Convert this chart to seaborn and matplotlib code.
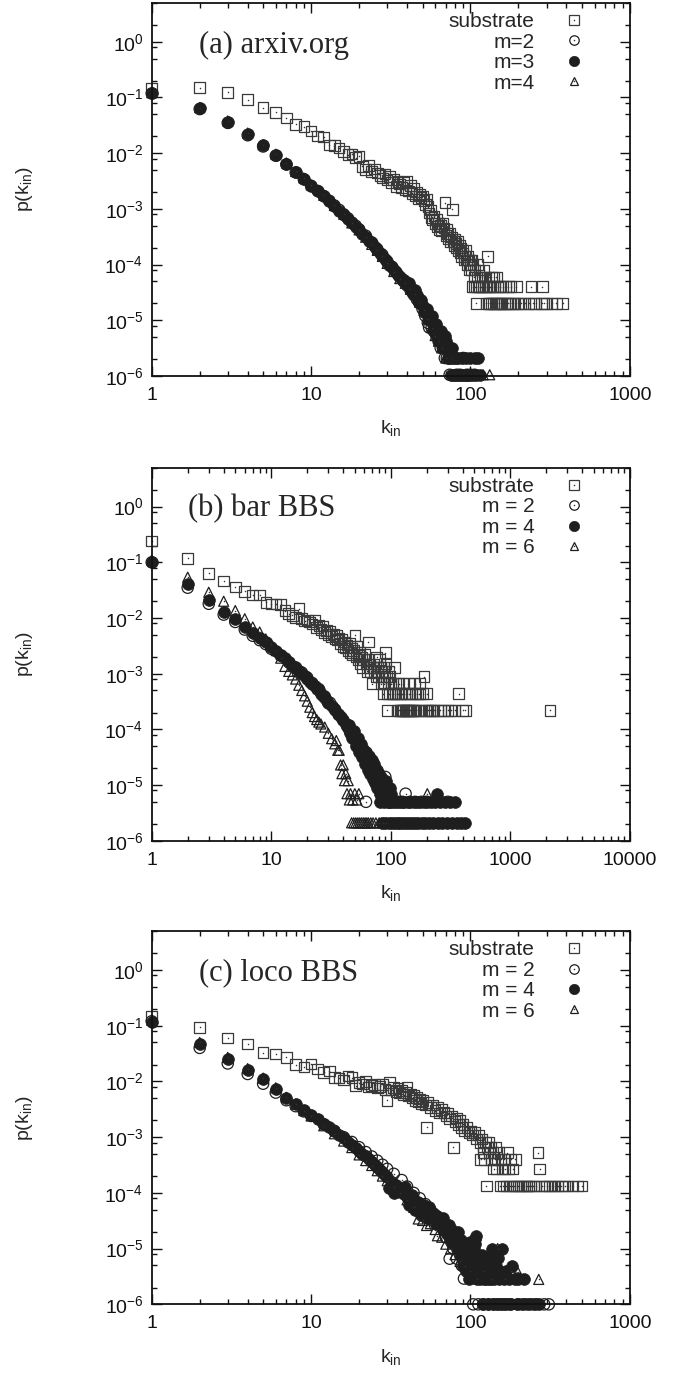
import matplotlib
matplotlib.use("Agg")
import matplotlib.pyplot as plt
import seaborn as sns
from matplotlib.lines import Line2D
from matplotlib.legend_handler import HandlerTuple
from matplotlib.ticker import LogLocator, LogFormatterSciNotation, NullFormatter

# ---------------- data: (k_in, p(k_in)) ----------------
# (a) arxiv.org
A_SUB = [(1, .147), (2, .151), (3, .123), (4, .091), (5, .066), (6, .054), (7, .043), (8, .033),
         (9, .030), (10, .025), (11, .0205), (12, .0195), (13, .014), (14, .0136), (15, .0124),
         (16, .0108), (17, .0094), (18, .0096), (19, .0083), (20, .0088), (21, .0058), (22, .0051),
         (23, .0060), (24, .0047), (25, .0052), (26, .0044), (27, .0040), (28, .0036), (29, .0042),
         (30, .0033), (31, .0038), (32, .0030), (33, .0034), (34, .0025), (35, .0031), (36, .0028),
         (37, .0024), (38, .0030), (39, .0022), (40, .0031), (41, .0021), (42, .0026), (43, .0019),
         (44, .0023), (45, .0017), (46, .0020), (47, .0015), (48, .0018), (49, .0016), (50, .0017),
         (51, .0014), (52, .0012), (53, .0015), (54, .0011), (55, 8.5e-4), (56, 9.5e-4), (57, 7.0e-4),
         (58, 6.4e-4), (59, 7.5e-4), (60, 5.5e-4), (61, 6.4e-4), (62, 4.8e-4), (63, 5.5e-4),
         (64, 4.3e-4), (65, 5.0e-4), (66, 4.0e-4), (67, 5.5e-4), (68, 4.5e-4), (69, 1.3e-3),
         (70, 3.3e-4), (71, 4.3e-4), (72, 3.6e-4), (73, 2.9e-4), (74, 3.6e-4), (75, 2.6e-4),
         (76, 3.1e-4), (77, 9.8e-4), (78, 2.6e-4), (79, 2.2e-4), (80, 2.9e-4), (81, 2.4e-4),
         (82, 2.0e-4), (83, 2.6e-4), (84, 1.8e-4), (85, 2.2e-4), (86, 1.6e-4), (87, 2.0e-4),
         (88, 1.4e-4), (89, 1.8e-4), (90, 1.6e-4), (91, 1.2e-4), (92, 1.4e-4), (93, 1.8e-4),
         (94, 1.2e-4), (95, 1.0e-4), (96, 1.4e-4), (97, 1.2e-4), (98, 8.0e-5), (99, 1.0e-4),
         (100, 1.2e-4), (101, 8.0e-5), (102, 1.2e-4), (103, 4.0e-5), (104, 1.0e-4), (105, 6.0e-5),
         (106, 4.0e-5), (107, 8.0e-5), (108, 2.0e-5), (109, 4.0e-5), (110, 6.0e-5), (111, 1.0e-4),
         (112, 4.0e-5), (113, 8.0e-5), (114, 4.0e-5), (115, 6.0e-5), (117, 4.0e-5), (118, 6.0e-5),
         (120, 4.0e-5), (121, 8.0e-5), (123, 6.0e-5), (124, 4.0e-5), (126, 2.0e-5), (127, 4.0e-5),
         (128, 1.4e-4), (129, 2.0e-5), (130, 4.0e-5), (131, 6.0e-5), (132, 2.0e-5), (133, 4.0e-5),
         (135, 6.0e-5), (136, 2.0e-5), (137, 4.0e-5), (139, 2.0e-5), (140, 6.0e-5), (142, 4.0e-5),
         (143, 2.0e-5), (145, 6.0e-5), (146, 2.0e-5), (148, 4.0e-5), (151, 2.0e-5), (153, 4.0e-5),
         (155, 2.0e-5), (158, 2.0e-5), (160, 4.0e-5), (163, 2.0e-5), (166, 4.0e-5), (168, 2.0e-5),
         (172, 2.0e-5), (173, 4.0e-5), (177, 2.0e-5), (180, 4.0e-5), (183, 2.0e-5), (190, 2.0e-5),
         (194, 4.0e-5), (199, 2.0e-5), (208, 2.0e-5), (219, 2.0e-5), (233, 2.0e-5), (240, 4.0e-5),
         (248, 2.0e-5), (256, 2.0e-5), (279, 2.0e-5), (282, 4.0e-5), (290, 2.0e-5), (300, 2.0e-5),
         (325, 2.0e-5), (345, 2.0e-5), (379, 2.0e-5)]
A_M2 = [(1, .118), (2, .062), (3, .035), (4, .021), (5, .0132), (6, .009), (7, .0063), (8, .0045),
        (9, .0034), (10, .0026), (11, .0021), (12, .0017), (13, .0014), (14, .00115), (15, .00096),
        (16, .0008), (17, .00068), (18, .00057), (19, .0005), (20, .00043), (22, 3.3e-4),
        (24, 2.5e-4), (26, 1.9e-4), (28, 1.5e-4), (30, 1.15e-4), (32, 9.2e-5), (34, 7.4e-5),
        (36, 6.0e-5), (38, 5.0e-5), (40, 4.2e-5), (42, 3.5e-5), (44, 2.9e-5), (46, 2.4e-5),
        (48, 2.0e-5), (50, 1.6e-5), (52, 1.2e-5), (54, 9.0e-6), (55, 7.4e-6), (57, 7.4e-6),
        (59, 6.3e-6), (61, 5.3e-6), (63, 4.2e-6), (65, 3.2e-6), (67, 3.2e-6), (69, 2.1e-6),
        (71, 2.1e-6), (74, 1.05e-6), (78, 2.1e-6), (82, 1.05e-6), (86, 1.05e-6), (90, 2.1e-6),
        (95, 1.05e-6), (100, 1.05e-6), (106, 1.05e-6)]
A_M3 = [(1, .12), (2, .065), (3, .037), (4, .022), (5, .0138), (6, .0093), (7, .0065), (8, .0046),
        (9, .0035), (10, .0026), (11, .0021), (12, .0017), (13, .00138), (14, .00112), (15, .00093),
        (16, .00078), (17, .00066), (18, .00055), (19, .00048), (20, .00041), (21, 3.5e-4),
        (22, 3.1e-4), (23, 2.7e-4), (24, 2.4e-4), (25, 2.1e-4), (26, 1.85e-4), (27, 1.6e-4),
        (28, 1.45e-4), (29, 1.25e-4), (30, 1.1e-4), (31, 1.0e-4), (32, 9.0e-5), (33, 8.0e-5),
        (34, 7.4e-5), (35, 6.6e-5), (36, 6.0e-5), (37, 5.6e-5), (38, 5.2e-5), (39, 4.8e-5),
        (40, 4.5e-5), (41, 4.6e-5), (42, 3.9e-5), (43, 3.2e-5), (44, 3.4e-5), (45, 3.5e-5),
        (46, 2.8e-5), (47, 2.2e-5), (48, 2.2e-5), (49, 2.3e-5), (50, 1.8e-5), (51, 1.4e-5),
        (52, 1.5e-5), (53, 1.6e-5), (54, 1.2e-5), (55, 1.0e-5), (56, 1.0e-5), (57, 1.2e-5),
        (58, 8.4e-6), (59, 6.3e-6), (60, 7.4e-6), (61, 8.4e-6), (62, 5.3e-6), (63, 4.2e-6),
        (64, 4.2e-6), (65, 6.3e-6), (66, 5.3e-6), (67, 3.2e-6), (68, 3.2e-6), (69, 5.3e-6),
        (70, 4.2e-6), (71, 3.2e-6), (72, 2.1e-6), (73, 2.1e-6), (74, 3.2e-6), (75, 2.1e-6),
        (76, 1.05e-6), (77, 3.2e-6), (78, 1.05e-6), (79, 2.1e-6), (80, 1.05e-6), (81, 2.1e-6),
        (82, 1.05e-6), (84, 2.1e-6), (85, 1.05e-6), (87, 1.05e-6), (88, 2.1e-6), (90, 1.05e-6),
        (92, 1.05e-6), (94, 2.1e-6), (95, 1.05e-6), (97, 1.05e-6), (99, 2.1e-6), (100, 1.05e-6),
        (103, 1.05e-6), (106, 2.1e-6), (108, 1.05e-6), (111, 2.1e-6), (114, 1.05e-6)]
A_M4 = [(1, .122), (2, .066), (3, .038), (4, .023), (5, .0142), (6, .0096), (7, .0067), (8, .0047),
        (9, .0036), (10, .0027), (12, .00175), (14, .00115), (16, .0008), (18, .00056), (20, .00042),
        (22, 3.1e-4), (24, 2.3e-4), (26, 1.8e-4), (28, 1.4e-4), (30, 1.05e-4), (33, 7.5e-5),
        (36, 5.6e-5), (39, 4.6e-5), (42, 3.6e-5), (45, 2.9e-5), (48, 2.1e-5), (51, 1.5e-5),
        (54, 1.05e-5), (57, 7.4e-6), (60, 5.3e-6), (63, 4.2e-6), (66, 3.2e-6), (70, 2.1e-6),
        (75, 2.1e-6), (80, 1.05e-6), (90, 1.05e-6), (100, 1.05e-6), (110, 1.05e-6), (120, 1.05e-6),
        (132, 1.05e-6)]

# (b) bar BBS
B_SUB = [(1, .24), (2, .118), (3, .063), (4, .046), (5, .036), (6, .030), (7, .026), (8, .026),
         (9, .019), (10, .018), (11, .018), (12, .0175), (13, .0136), (14, .012), (15, .0112),
         (16, .0103), (17, .0148), (18, .0098), (19, .0088), (20, .0092), (21, .0085), (22, .0078),
         (23, .0092), (24, .0068), (25, .0074), (26, .0062), (27, .0072), (28, .0055), (29, .0060),
         (30, .0050), (31, .0058), (32, .0046), (33, .0052), (34, .0042), (35, .0049), (36, .0040),
         (37, .0044), (38, .0035), (39, .0042), (40, .0031), (41, .0037), (42, .0029), (43, .0033),
         (44, .0026), (45, .0035), (46, .0024), (47, .0029), (48, .0022), (49, .0026), (50, .0049),
         (51, .0020), (52, .0031), (53, .0018), (54, .0021), (55, .0024), (56, .0015), (57, .0020),
         (58, .0013), (59, .0018), (60, .0022), (62, .0015), (63, .0011), (64, .0018), (65, .0037),
         (66, .0013), (67, .0015), (68, .0011), (70, 6.6e-4), (71, .0013), (72, .0015), (73, .0011),
         (75, 8.8e-4), (76, .0020), (77, .0013), (78, .0011), (79, 8.8e-4), (80, .0018), (82, .0013),
         (83, 6.6e-4), (84, .0011), (85, 8.8e-4), (86, 4.4e-4), (87, .0013), (88, 6.6e-4),
         (89, .0011), (90, .0024), (91, .0015), (92, 8.8e-4), (93, 2.2e-4), (94, 4.4e-4),
         (95, 6.6e-4), (96, .0011), (97, 4.4e-4), (98, 8.8e-4), (100, 6.6e-4), (102, 4.4e-4),
         (104, 6.6e-4), (105, 4.4e-4), (107, 1.3e-3), (108, 4.4e-4), (110, 6.6e-4), (113, 2.2e-4),
         (114, 4.4e-4), (116, 2.2e-4), (117, 6.6e-4), (119, 2.2e-4), (120, 4.4e-4), (122, 2.2e-4),
         (124, 4.4e-4), (125, 2.2e-4), (127, 6.6e-4), (128, 2.2e-4), (130, 4.4e-4), (132, 2.2e-4),
         (134, 2.2e-4), (135, 4.4e-4), (137, 2.2e-4), (140, 6.6e-4), (141, 2.2e-4), (143, 4.4e-4),
         (145, 2.2e-4), (148, 2.2e-4), (150, 4.4e-4), (152, 2.2e-4), (155, 2.2e-4), (158, 6.6e-4),
         (160, 4.4e-4), (163, 2.2e-4), (167, 4.4e-4), (170, 2.2e-4), (173, 4.4e-4), (176, 6.6e-4),
         (180, 2.2e-4), (185, 4.4e-4), (190, 8.8e-4), (195, 2.2e-4), (200, 4.4e-4), (205, 2.2e-4),
         (212, 2.2e-4), (220, 2.2e-4), (230, 2.2e-4), (245, 2.2e-4), (260, 2.2e-4), (275, 2.2e-4),
         (300, 2.2e-4), (320, 2.2e-4), (345, 2.2e-4), (370, 4.4e-4), (400, 2.2e-4), (420, 2.2e-4),
         (2150, 2.2e-4)]
B_M2 = [(1, .10), (2, .035), (3, .018), (4, .0115), (5, .0085), (6, .0062), (7, .0048), (8, .0040),
        (9, .0034), (10, .0028), (12, .0021), (14, .0016), (16, .0013), (18, .00105), (20, .00085),
        (22, 6.8e-4), (25, 5.3e-4), (28, 3.9e-4), (31, 3.0e-4), (34, 2.3e-4), (37, 1.8e-4),
        (40, 1.45e-4), (43, 1.15e-4), (46, 9.0e-5), (50, 6.8e-5), (54, 4.8e-5), (58, 3.6e-5),
        (62, 5.0e-6), (63, 2.7e-5), (68, 2.1e-5), (73, 1.6e-5), (78, 1.2e-5), (84, 1.0e-5),
        (90, 1.4e-5), (96, 7.0e-6), (104, 5.0e-6), (115, 5.0e-6), (125, 5.0e-6), (133, 7.0e-6),
        (145, 5.0e-6), (160, 5.0e-6), (180, 5.0e-6), (200, 5.0e-6), (230, 5.0e-6), (260, 5.0e-6),
        (300, 5.0e-6)]
B_M4 = [(1, .10), (2, .040), (3, .021), (4, .013), (5, .0097), (6, .0070), (7, .0053), (8, .0044),
        (9, .0037), (10, .0030), (11, .0026), (12, .0022), (13, .0019), (14, .0016), (15, .0014),
        (16, .00125), (17, .0011), (18, .0010), (19, 9.0e-4), (20, 8.0e-4), (21, 7.2e-4),
        (22, 6.5e-4), (23, 5.9e-4), (24, 5.4e-4), (25, 5.0e-4), (26, 4.4e-4), (27, 4.0e-4),
        (28, 3.6e-4), (29, 3.3e-4), (30, 3.0e-4), (32, 2.6e-4), (34, 2.2e-4), (36, 1.9e-4),
        (38, 1.65e-4), (40, 1.45e-4), (42, 1.25e-4), (44, 1.05e-4), (46, 8.5e-5), (48, 7.5e-5),
        (50, 6.5e-5), (52, 5.6e-5), (55, 4.5e-5), (58, 3.8e-5), (60, 3.3e-5), (63, 2.9e-5),
        (65, 2.6e-5), (68, 2.2e-5), (70, 2.0e-5), (73, 1.7e-5), (75, 1.5e-5), (78, 1.3e-5),
        (80, 1.2e-5), (82, 5.0e-6), (84, 1.0e-5), (85, 2.1e-6), (86, 7.0e-6), (88, 5.0e-6),
        (90, 2.1e-6), (92, 9.0e-6), (94, 5.0e-6), (96, 2.1e-6), (98, 5.0e-6), (100, 7.0e-6),
        (102, 2.1e-6), (105, 5.0e-6), (108, 2.1e-6), (111, 5.0e-6), (114, 2.1e-6), (117, 5.0e-6),
        (120, 2.1e-6), (123, 5.0e-6), (126, 2.1e-6), (130, 5.0e-6), (134, 2.1e-6), (138, 5.0e-6),
        (142, 2.1e-6), (146, 5.0e-6), (150, 2.1e-6), (155, 5.0e-6), (160, 2.1e-6), (165, 5.0e-6),
        (170, 2.1e-6), (176, 5.0e-6), (182, 2.1e-6), (188, 5.0e-6), (195, 2.1e-6), (202, 5.0e-6),
        (210, 2.1e-6), (218, 5.0e-6), (226, 2.1e-6), (235, 5.0e-6), (244, 7.0e-6), (250, 2.1e-6),
        (260, 5.0e-6), (270, 2.1e-6), (282, 5.0e-6), (295, 2.1e-6), (310, 5.0e-6), (325, 2.1e-6),
        (346, 5.0e-6), (360, 2.1e-6), (385, 2.1e-6), (420, 2.1e-6),
        (45, 1.2e-4), (47, 7.0e-5), (49, 9.5e-5), (51, 5.0e-5), (53, 7.0e-5), (54, 4.0e-5),
        (56, 5.5e-5), (57, 3.2e-5), (59, 4.5e-5), (61, 2.4e-5), (62, 4.0e-5), (64, 1.9e-5),
        (66, 3.3e-5), (67, 1.6e-5), (69, 2.8e-5), (71, 1.3e-5), (72, 2.4e-5), (74, 1.1e-5),
        (76, 1.9e-5), (77, 9.0e-6), (79, 1.6e-5), (81, 7.0e-6), (83, 1.4e-5), (87, 1.1e-5),
        (89, 7.0e-6), (91, 1.2e-5), (93, 7.0e-6), (95, 9.0e-6), (97, 5.0e-6), (99, 9.0e-6)]
B_M6 = [(1, .11), (2, .054), (3, .029), (4, .020), (5, .0136), (6, .0097), (7, .0069), (8, .0056),
        (9, .0042), (10, .0034), (11, .0026), (12, .0019), (13, .00135), (14, .0011), (15, .00095),
        (16, .0008), (17, 6.2e-4), (18, 5.0e-4), (19, 4.0e-4), (20, 3.2e-4), (21, 2.5e-4),
        (22, 2.0e-4), (23, 1.7e-4), (24, 1.5e-4), (25, 1.35e-4), (26, 1.25e-4), (28, 1.1e-4),
        (30, 8.5e-5), (32, 6.8e-5), (34, 5.5e-5), (35, 6.3e-5), (36, 4.2e-5), (37, 4.2e-5),
        (38, 2.3e-5), (39, 1.6e-5), (40, 2.3e-5), (41, 1.2e-5), (42, 1.6e-5), (43, 7.0e-6),
        (44, 1.2e-5), (45, 5.4e-6), (46, 7.0e-6), (47, 2.1e-6), (48, 5.4e-6), (49, 2.1e-6),
        (50, 7.0e-6), (51, 2.1e-6), (52, 5.4e-6), (53, 2.1e-6), (54, 7.0e-6), (55, 2.1e-6),
        (57, 2.1e-6), (59, 2.1e-6), (61, 2.1e-6), (63, 2.1e-6), (65, 2.1e-6), (68, 2.1e-6),
        (71, 2.1e-6), (75, 2.1e-6), (80, 2.1e-6), (86, 2.1e-6), (92, 2.1e-6), (202, 7.0e-6)]

# (c) loco BBS
C_SUB = [(1, .15), (2, .093), (3, .060), (4, .047), (5, .033), (6, .031), (7, .027), (8, .020),
         (9, .018), (10, .0205), (11, .0167), (12, .0145), (13, .0155), (14, .0118), (15, .0115),
         (16, .0107), (17, .0125), (18, .0117), (19, .0084), (20, .0095), (21, .0090), (22, .010),
         (23, .0079), (24, .0085), (25, .0088), (26, .0076), (27, .0082), (28, .0089), (29, .0072),
         (30, .0046), (31, .0096), (32, .0070), (33, .0078), (34, .0066), (35, .0074), (36, .0062),
         (37, .0068), (38, .0058), (39, .0064), (40, .0080), (41, .0055), (42, .0060), (43, .0050),
         (44, .0056), (45, .0046), (46, .0052), (47, .0043), (48, .0048), (49, .0040), (50, .0045),
         (52, .0038), (53, .0015), (54, .0042), (56, .0034), (58, .0038), (60, .0030), (62, .0034),
         (64, .0027), (66, .0031), (68, .0028), (70, .0024), (72, .0027), (74, .0021), (76, .0024),
         (78, 6.6e-4), (80, .0019), (82, .0022), (84, .0017), (86, .0020), (88, .0015), (90, .0017),
         (92, .0013), (95, .0015), (98, .0012), (100, .0013), (103, .0011), (106, .0012),
         (109, 9.3e-4), (112, .0011), (115, 8.0e-4), (116, 4.0e-4), (118, 9.3e-4), (120, 5.3e-4),
         (121, 6.7e-4), (122, 4.0e-4), (124, 8.0e-4), (126, 1.33e-4), (128, 6.7e-4), (130, 8.0e-4),
         (132, 5.3e-4), (134, 6.7e-4), (136, 4.0e-4), (138, 5.3e-4), (140, 2.7e-4), (142, 4.0e-4),
         (144, 6.7e-4), (146, 2.7e-4), (148, 4.0e-4), (150, 5.3e-4), (153, 1.33e-4), (155, 4.0e-4),
         (158, 2.7e-4), (160, 1.33e-4), (162, 4.0e-4), (165, 2.7e-4), (167, 1.33e-4), (170, 5.3e-4),
         (173, 2.7e-4), (176, 1.33e-4), (179, 4.0e-4), (182, 1.33e-4), (185, 2.7e-4), (188, 1.33e-4),
         (191, 4.0e-4), (195, 1.33e-4), (200, 1.33e-4), (206, 1.33e-4), (212, 1.33e-4),
         (218, 1.33e-4), (225, 1.33e-4), (232, 1.33e-4), (240, 1.33e-4), (248, 1.33e-4),
         (256, 1.33e-4), (265, 5.3e-4), (272, 2.7e-4), (280, 1.33e-4), (290, 1.33e-4),
         (300, 1.33e-4), (312, 1.33e-4), (325, 1.33e-4), (340, 1.33e-4), (355, 1.33e-4),
         (372, 1.33e-4), (390, 1.33e-4), (410, 1.33e-4), (440, 1.33e-4), (470, 1.33e-4),
         (500, 1.33e-4)]
C_M2 = [(1, .12), (2, .040), (3, .021), (4, .0136), (5, .0091), (6, .0063), (7, .0046), (8, .0036),
        (9, .0029), (10, .0024), (12, 1.7e-3), (14, 1.3e-3), (16, 1.0e-3), (18, 8.2e-4),
        (20, 6.6e-4), (22, 5.4e-4), (24, 4.5e-4), (26, 3.8e-4), (28, 3.2e-4), (30, 2.7e-4),
        (33, 2.2e-4), (37, 1.7e-4), (40, 1.3e-4), (44, 1.0e-4), (48, 8.0e-5), (52, 6.3e-5),
        (56, 5.0e-5), (60, 4.0e-5), (65, 2.8e-5), (70, 1.6e-5), (74, 6.6e-6), (78, 1.0e-5),
        (82, 6.6e-6), (85, 1.0e-5), (88, 5.0e-6), (91, 2.9e-6), (95, 4.0e-6), (100, 2.9e-6),
        (104, 1.0e-6), (108, 2.9e-6), (112, 1.0e-6), (116, 3.9e-6), (120, 1.0e-6), (125, 2.9e-6),
        (130, 1.0e-6), (140, 1.0e-6), (150, 1.0e-6), (160, 1.0e-6), (170, 1.0e-6), (180, 1.0e-6),
        (198, 2.9e-6), (200, 1.0e-6), (220, 1.0e-6), (240, 1.0e-6), (260, 1.0e-6), (290, 1.0e-6),
        (310, 1.0e-6)]
C_M4 = [(1, .115), (2, .047), (3, .025), (4, .016), (5, .011), (6, .0074), (7, .0051), (8, .0039),
        (9, .0031), (10, .0025), (11, 2.1e-3), (12, 1.75e-3), (13, 1.5e-3), (14, 1.3e-3),
        (15, 1.1e-3), (16, 9.5e-4), (17, 8.3e-4), (18, 7.3e-4), (19, 6.4e-4), (20, 5.7e-4),
        (21, 5.0e-4), (22, 4.5e-4), (23, 4.0e-4), (24, 3.6e-4), (25, 3.2e-4), (26, 2.9e-4),
        (27, 2.6e-4), (28, 2.35e-4), (29, 2.1e-4), (30, 1.9e-4), (31, 1.2e-4), (32, 1.6e-4),
        (33, 1.0e-4), (34, 1.4e-4), (35, 1.25e-4), (36, 1.15e-4), (37, 1.05e-4), (38, 9.5e-5),
        (40, 8.5e-5), (42, 7.0e-5), (44, 6.5e-5), (46, 5.5e-5), (48, 5.0e-5), (50, 4.6e-5),
        (52, 4.3e-5), (54, 4.9e-5), (56, 3.9e-5), (58, 4.4e-5), (60, 3.4e-5), (62, 3.9e-5),
        (64, 2.9e-5), (66, 2.4e-5), (68, 2.9e-5), (70, 2.0e-5), (72, 2.4e-5), (74, 1.5e-5),
        (76, 2.0e-5), (78, 1.5e-5), (80, 1.8e-5), (82, 1.0e-5), (84, 1.5e-5), (86, 7.8e-6),
        (88, 1.2e-5), (90, 4.9e-6), (92, 9.8e-6), (94, 3.9e-6), (96, 6.8e-6), (98, 2.9e-6),
        (100, 5.9e-6), (102, 1.0e-5), (104, 3.9e-6), (106, 1.5e-5), (108, 1.7e-5), (110, 2.9e-6),
        (112, 5.9e-6), (115, 3.9e-6), (118, 7.8e-6), (119, 1.0e-6), (121, 2.9e-6), (124, 4.9e-6),
        (127, 6.8e-6), (129, 1.0e-6), (130, 2.9e-6), (133, 3.9e-6), (136, 9.8e-6), (138, 1.0e-6),
        (140, 2.9e-6), (144, 4.9e-6), (146, 1.0e-6), (148, 6.8e-6), (152, 2.9e-6), (155, 1.0e-6),
        (157, 1.0e-5), (162, 2.9e-6), (165, 1.0e-6), (168, 3.9e-6), (175, 2.9e-6), (178, 1.0e-6),
        (182, 4.9e-6), (190, 2.9e-6), (195, 1.0e-6), (200, 2.9e-6), (210, 1.0e-6), (218, 2.9e-6),
        (230, 1.0e-6), (250, 1.0e-6), (270, 1.0e-6),
        (39, 1.3e-4), (41, 6.0e-5), (43, 9.0e-5), (45, 5.0e-5), (47, 7.0e-5), (49, 4.0e-5),
        (51, 6.0e-5), (53, 3.5e-5), (55, 5.5e-5), (57, 3.2e-5), (59, 3.8e-5), (61, 2.8e-5),
        (63, 3.4e-5), (65, 2.6e-5), (67, 3.6e-5), (69, 2.2e-5), (71, 1.8e-5), (73, 2.7e-5),
        (75, 1.3e-5), (77, 2.2e-5), (79, 1.2e-5), (81, 1.6e-5), (83, 2.0e-5), (85, 9.8e-6),
        (87, 1.4e-5), (89, 6.8e-6), (91, 1.1e-5), (93, 5.9e-6), (95, 1.2e-5), (97, 8.8e-6),
        (99, 1.3e-5), (101, 7.8e-6), (103, 4.9e-6), (105, 9.8e-6), (107, 1.2e-5), (109, 3.9e-6),
        (111, 7.8e-6), (113, 4.9e-6), (114, 2.9e-6), (116, 5.9e-6), (117, 3.9e-6), (120, 6.8e-6),
        (122, 3.9e-6), (123, 5.9e-6), (125, 2.9e-6), (126, 3.9e-6), (128, 4.9e-6), (131, 5.9e-6),
        (132, 3.9e-6), (134, 2.9e-6), (135, 6.8e-6), (137, 3.9e-6), (139, 4.9e-6), (142, 5.9e-6),
        (150, 3.9e-6)]
C_M6 = [(1, .125), (2, .050), (3, .027), (4, .017), (5, .0115), (6, .0077), (7, .0052), (8, .0039),
        (9, .0030), (10, .0024), (12, 1.6e-3), (14, 1.15e-3), (16, 8.5e-4), (18, 6.5e-4),
        (20, 4.8e-4), (22, 3.8e-4), (24, 3.1e-4), (26, 2.5e-4), (28, 2.0e-4), (30, 1.65e-4),
        (33, 1.3e-4), (36, 1.0e-4), (40, 7.5e-5), (44, 5.5e-5), (47, 3.4e-5), (50, 3.2e-5),
        (53, 2.6e-5), (56, 2.8e-5), (60, 2.2e-5), (62, 1.7e-5), (66, 1.6e-5), (70, 1.2e-5),
        (75, 9.8e-6), (80, 7.8e-6), (86, 5.9e-6), (92, 4.9e-6), (100, 3.9e-6), (110, 2.9e-6),
        (120, 3.9e-6), (135, 2.9e-6), (148, 1.0e-5), (165, 2.9e-6), (180, 3.9e-6), (198, 3.8e-6),
        (268, 2.8e-6)]

TITLES = ["(a) arxiv.org", "(b) bar BBS", "(c) loco BBS"]
LABELS_A = ["substrate", "m=2", "m=3", "m=4"]
LABELS_BC = ["substrate", "m = 2", "m = 4", "m = 6"]
XMAX = [1000, 10000, 1000]

# ---------------- style ----------------
sns.set_theme(style="ticks")
plt.rcParams["font.family"] = ["Liberation Sans", "DejaVu Sans"]
plt.rcParams["axes.unicode_minus"] = False
plt.rcParams["mathtext.fontset"] = "custom"
plt.rcParams["mathtext.rm"] = "Liberation Sans"

INK = "#1e1e1e"
STYLES = [
    dict(marker="s", s=58, facecolors="none", edgecolor="#3a3a3a", linewidth=0.9, dot=True),
    dict(marker="o", s=66, facecolors="none", edgecolor=INK, linewidth=0.9, dot=True),
    dict(marker="o", s=72, facecolors=INK, edgecolor=INK, linewidth=0.5, dot=False),
    dict(marker="^", s=52, facecolors="none", edgecolor=INK, linewidth=0.9, dot=True),
]
LEGEND_MS = [6.8, 6.8, 7.4, 6.4]

RECTS = [[0.2202, 0.7264, 0.694, 0.2715],
         [0.2202, 0.3881, 0.694, 0.2715],
         [0.2202, 0.0507, 0.694, 0.2717]]
TITLE_POS = [(0.098, 0.866), (0.076, 0.869), (0.098, 0.869)]

fig = plt.figure(figsize=(6.89, 13.74), dpi=100)

panels = [(A_SUB, A_M2, A_M3, A_M4), (B_SUB, B_M2, B_M4, B_M6), (C_SUB, C_M2, C_M4, C_M6)]

for i, series in enumerate(panels):
    ax = fig.add_axes(RECTS[i])
    ax.set_xscale("log")
    ax.set_yscale("log")

    for data, st in zip(series, STYLES):
        k, p = zip(*data)
        st = dict(st)
        dot = st.pop("dot")
        sns.scatterplot(x=list(k), y=list(p), ax=ax, legend=False, clip_on=False, **st)
        if dot:
            sns.scatterplot(x=list(k), y=list(p), ax=ax, legend=False, clip_on=False,
                            marker="o", s=1.2, color="#333333", linewidth=0)

    ax.set_xlim(1, XMAX[i])
    ax.set_ylim(1e-6, 5)

    xt = [10 ** e for e in range(0, 5) if 10 ** e <= XMAX[i]]
    ax.set_xticks(xt, [str(v) for v in xt])
    ax.xaxis.set_minor_locator(LogLocator(base=10, subs=range(2, 10), numticks=50))
    ax.xaxis.set_minor_formatter(NullFormatter())
    ax.yaxis.set_major_locator(LogLocator(base=10, numticks=20))
    ax.yaxis.set_major_formatter(LogFormatterSciNotation())
    ax.yaxis.set_minor_locator(LogLocator(base=10, subs=(2.0, 5.0, 8.0), numticks=50))
    ax.yaxis.set_minor_formatter(NullFormatter())

    ax.tick_params(which="both", direction="in", top=True, right=True, colors="#111111",
                   labelsize=14, width=1.0)
    ax.tick_params(which="major", length=7)
    ax.tick_params(which="minor", length=3.5)
    ax.tick_params(axis="x", pad=8)
    ax.tick_params(axis="y", pad=6)
    for sp in ax.spines.values():
        sp.set_linewidth(1.3)
        sp.set_color("#111111")

    ax.set_xlabel(r"k$_{\mathdefault{in}}$", fontsize=14)
    ax.set_ylabel(r"p(k$_{\mathdefault{in}}$)", fontsize=14)
    ax.xaxis.set_label_coords(0.5, -0.115)
    ax.yaxis.set_label_coords(-0.245, 0.5)

    ax.text(TITLE_POS[i][0], TITLE_POS[i][1], TITLES[i], transform=ax.transAxes,
            family=["Liberation Serif", "DejaVu Serif"], fontsize=22, va="baseline", ha="left")

    # legend: text first, marker (with centre dot) on the right
    handles = []
    for st, ms in zip(STYLES, LEGEND_MS):
        main = Line2D([], [], ls="none", marker=st["marker"], markersize=ms,
                      markerfacecolor=st["facecolors"], markeredgecolor=st["edgecolor"],
                      markeredgewidth=st["linewidth"])
        if st["dot"]:
            d = Line2D([], [], ls="none", marker="o", markersize=1.1, color="#333333",
                       markeredgewidth=0)
            handles.append((main, d))
        else:
            handles.append(main)
    labels = LABELS_A if i == 0 else LABELS_BC
    ax.legend(handles, labels, handler_map={tuple: HandlerTuple(ndivide=1)},
              loc="upper right", bbox_to_anchor=(0.905, 0.975), frameon=False,
              markerfirst=False, fontsize=15, handlelength=1.0, handletextpad=1.4,
              labelspacing=0.07, borderpad=0, borderaxespad=0)

fig.savefig("out.png", dpi=100)
